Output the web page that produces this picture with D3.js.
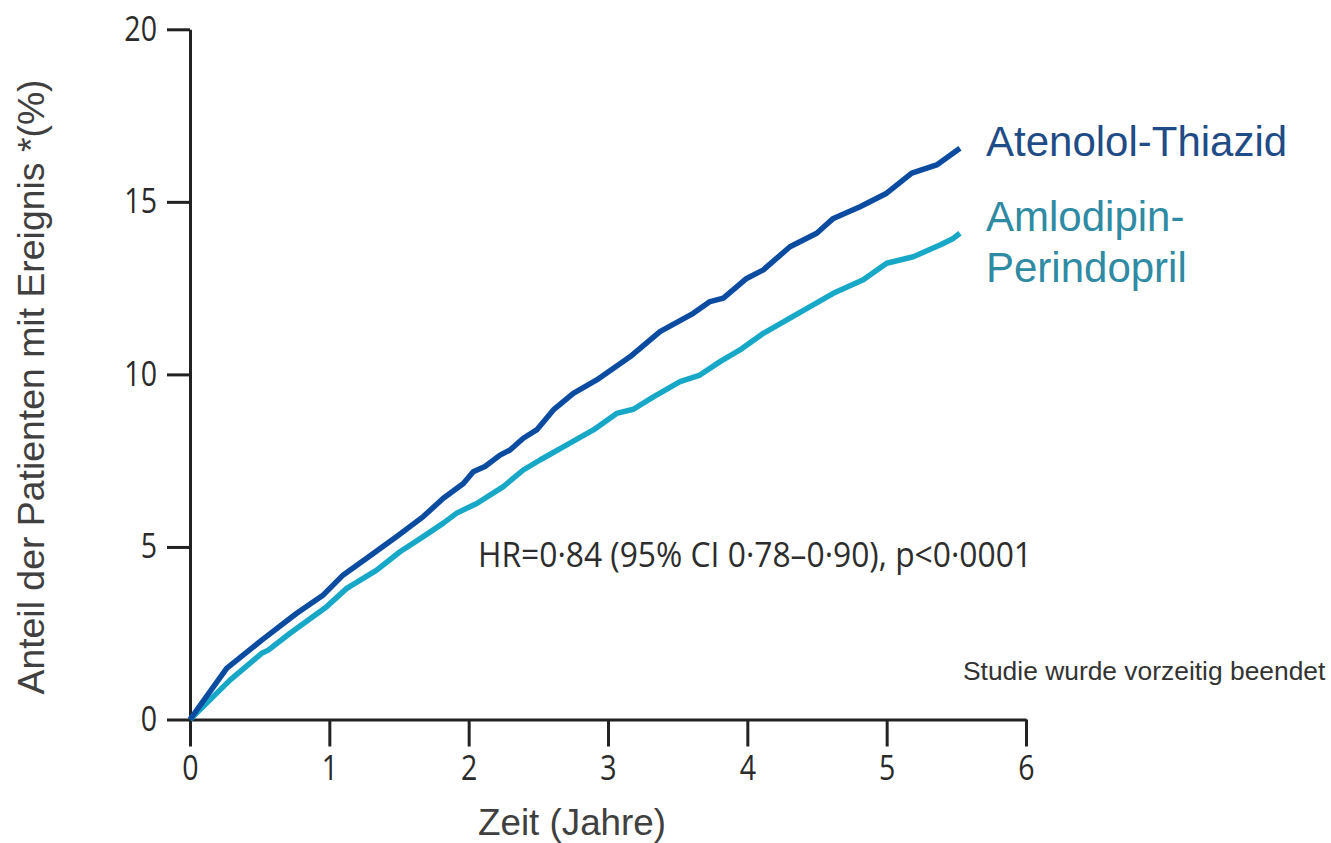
<!DOCTYPE html>
<html>
<head>
<meta charset="utf-8">
<script src="https://cdn.jsdelivr.net/npm/d3@7"></script>
<style>
  html, body { margin: 0; padding: 0; background: #ffffff; }
  svg { display: block; }
</style>
</head>
<body>
<svg id="chart" width="1331" height="843"></svg>
<script>
// Cumulative incidence (%) over follow-up time (years)
const atenololTime  = [0, 0.263, 0.515, 0.766, 0.957, 1.100, 1.268, 1.484, 1.674, 1.818, 1.962, 2.033, 2.117, 2.225, 2.297, 2.392, 2.488, 2.608, 2.751, 2.919, 3.158, 3.373, 3.612, 3.732, 3.828, 3.995, 4.115, 4.306, 4.498, 4.617, 4.809, 5.000, 5.180, 5.359, 5.526];
const atenololValue = [0, 1.48, 2.30, 3.08, 3.61, 4.19, 4.67, 5.30, 5.88, 6.41, 6.84, 7.18, 7.33, 7.66, 7.81, 8.15, 8.39, 8.97, 9.45, 9.84, 10.51, 11.24, 11.77, 12.11, 12.21, 12.78, 13.03, 13.70, 14.09, 14.52, 14.86, 15.25, 15.83, 16.07, 16.55];

const amlodipinTime  = [0, 0.287, 0.515, 0.562, 0.718, 0.981, 1.125, 1.340, 1.507, 1.674, 1.818, 1.914, 2.058, 2.249, 2.392, 2.512, 2.679, 2.895, 3.062, 3.182, 3.326, 3.517, 3.660, 3.804, 3.947, 4.115, 4.306, 4.617, 4.832, 5.000, 5.191, 5.383, 5.478, 5.526];
const amlodipinValue = [0, 1.14, 1.92, 2.01, 2.50, 3.27, 3.80, 4.33, 4.86, 5.30, 5.69, 5.98, 6.26, 6.75, 7.23, 7.52, 7.90, 8.39, 8.87, 8.99, 9.35, 9.79, 9.98, 10.37, 10.71, 11.19, 11.63, 12.35, 12.74, 13.22, 13.41, 13.75, 13.94, 14.09];

const xTicks = [0, 1, 2, 3, 4, 5, 6];
const yTicks = [0, 5, 10, 15, 20];

const seriesNames = ["Atenolol-Thiazid", "Amlodipin-Perindopril"];
const statText = "HR=0\u00B784 (95% CI 0\u00B778\u20130\u00B790), p<0\u00B70001";
const noteText = "Studie wurde vorzeitig beendet";
const xTitle = "Zeit (Jahre)";
const yTitle = "Anteil der Patienten mit Ereignis *(%)";

const svg = d3.select("#chart");

const x = d3.scaleLinear().domain([0, 6]).range([190, 1026]);
const y = d3.scaleLinear().domain([0, 20]).range([719.5, 29.3]);

const axisColor = "#222222";
const tickFont = "'Open Sans', 'DejaVu Sans', sans-serif";
const squeeze = 0.84;

// Y axis
const yAxis = svg.append("g")
  .attr("transform", `translate(${x(0)},0)`)
  .call(d3.axisLeft(y).tickValues(yTicks).tickSize(23).tickSizeOuter(0).tickPadding(10).tickFormat(d3.format("d")));
yAxis.select(".domain").attr("stroke", axisColor).attr("stroke-width", 3);
yAxis.selectAll(".tick line").attr("stroke", axisColor).attr("stroke-width", 3);
yAxis.selectAll(".tick text")
  .attr("fill", "#2a2a2a")
  .style("font-family", tickFont)
  .style("font-size", "34px")
  .attr("x", -33 / squeeze)
  .attr("transform", `scale(${squeeze},1)`);

// X axis
const xAxis = svg.append("g")
  .attr("transform", `translate(0,${y(0)})`)
  .call(d3.axisBottom(x).tickValues(xTicks).tickSize(27).tickSizeOuter(0).tickPadding(9).tickFormat(d3.format("d")));
xAxis.select(".domain").attr("stroke", axisColor).attr("stroke-width", 3);
xAxis.selectAll(".tick line").attr("stroke", axisColor).attr("stroke-width", 3);
xAxis.selectAll(".tick text")
  .attr("fill", "#2a2a2a")
  .style("font-family", tickFont)
  .style("font-size", "34px")
  .attr("transform", `scale(${squeeze},1)`);

// Curves
const line = d3.line()
  .x(d => x(d[0]))
  .y(d => y(d[1]))
  .curve(d3.curveLinear);

const atenolol = atenololTime.map((t, i) => [t, atenololValue[i]]);
const amlodipin = amlodipinTime.map((t, i) => [t, amlodipinValue[i]]);

svg.append("path")
  .datum(amlodipin)
  .attr("d", line)
  .attr("fill", "none")
  .attr("stroke", "#17a8c8")
  .attr("stroke-width", 5.5)
  .attr("stroke-linejoin", "round");

svg.append("path")
  .datum(atenolol)
  .attr("d", line)
  .attr("fill", "none")
  .attr("stroke", "#0b4ca1")
  .attr("stroke-width", 5.5)
  .attr("stroke-linejoin", "round");

// Series labels
const labelFont = "'Liberation Sans', Arial, sans-serif";
svg.append("text")
  .attr("x", 986).attr("y", 156)
  .attr("fill", "#1f4c86")
  .style("font-family", labelFont)
  .style("font-size", "42px")
  .text(seriesNames[0]);

const amLabel = svg.append("text")
  .attr("x", 986).attr("y", 231)
  .attr("fill", "#2f8aa3")
  .style("font-family", labelFont)
  .style("font-size", "42px");
amLabel.append("tspan").attr("x", 986).text("Amlodipin-");
amLabel.append("tspan").attr("x", 986).attr("dy", 51).text("Perindopril");

// Hazard ratio annotation
svg.append("text")
  .attr("x", 478).attr("y", 567)
  .attr("fill", "#2d2d2d")
  .attr("textLength", 554)
  .attr("lengthAdjust", "spacingAndGlyphs")
  .style("font-family", tickFont)
  .style("font-size", "34px")
  .text(statText);

// Note
svg.append("text")
  .attr("x", 963).attr("y", 680)
  .attr("fill", "#333333")
  .style("font-family", labelFont)
  .style("font-size", "26.4px")
  .text(noteText);

// Axis titles
svg.append("text")
  .attr("x", 572).attr("y", 835)
  .attr("text-anchor", "middle")
  .attr("fill", "#404040")
  .style("font-family", labelFont)
  .style("font-size", "36.8px")
  .text(xTitle);

svg.append("text")
  .attr("transform", "translate(44,387) rotate(-90)")
  .attr("text-anchor", "middle")
  .attr("fill", "#404040")
  .style("font-family", labelFont)
  .style("font-size", "37.4px")
  .text(yTitle);
</script>
</body>
</html>
